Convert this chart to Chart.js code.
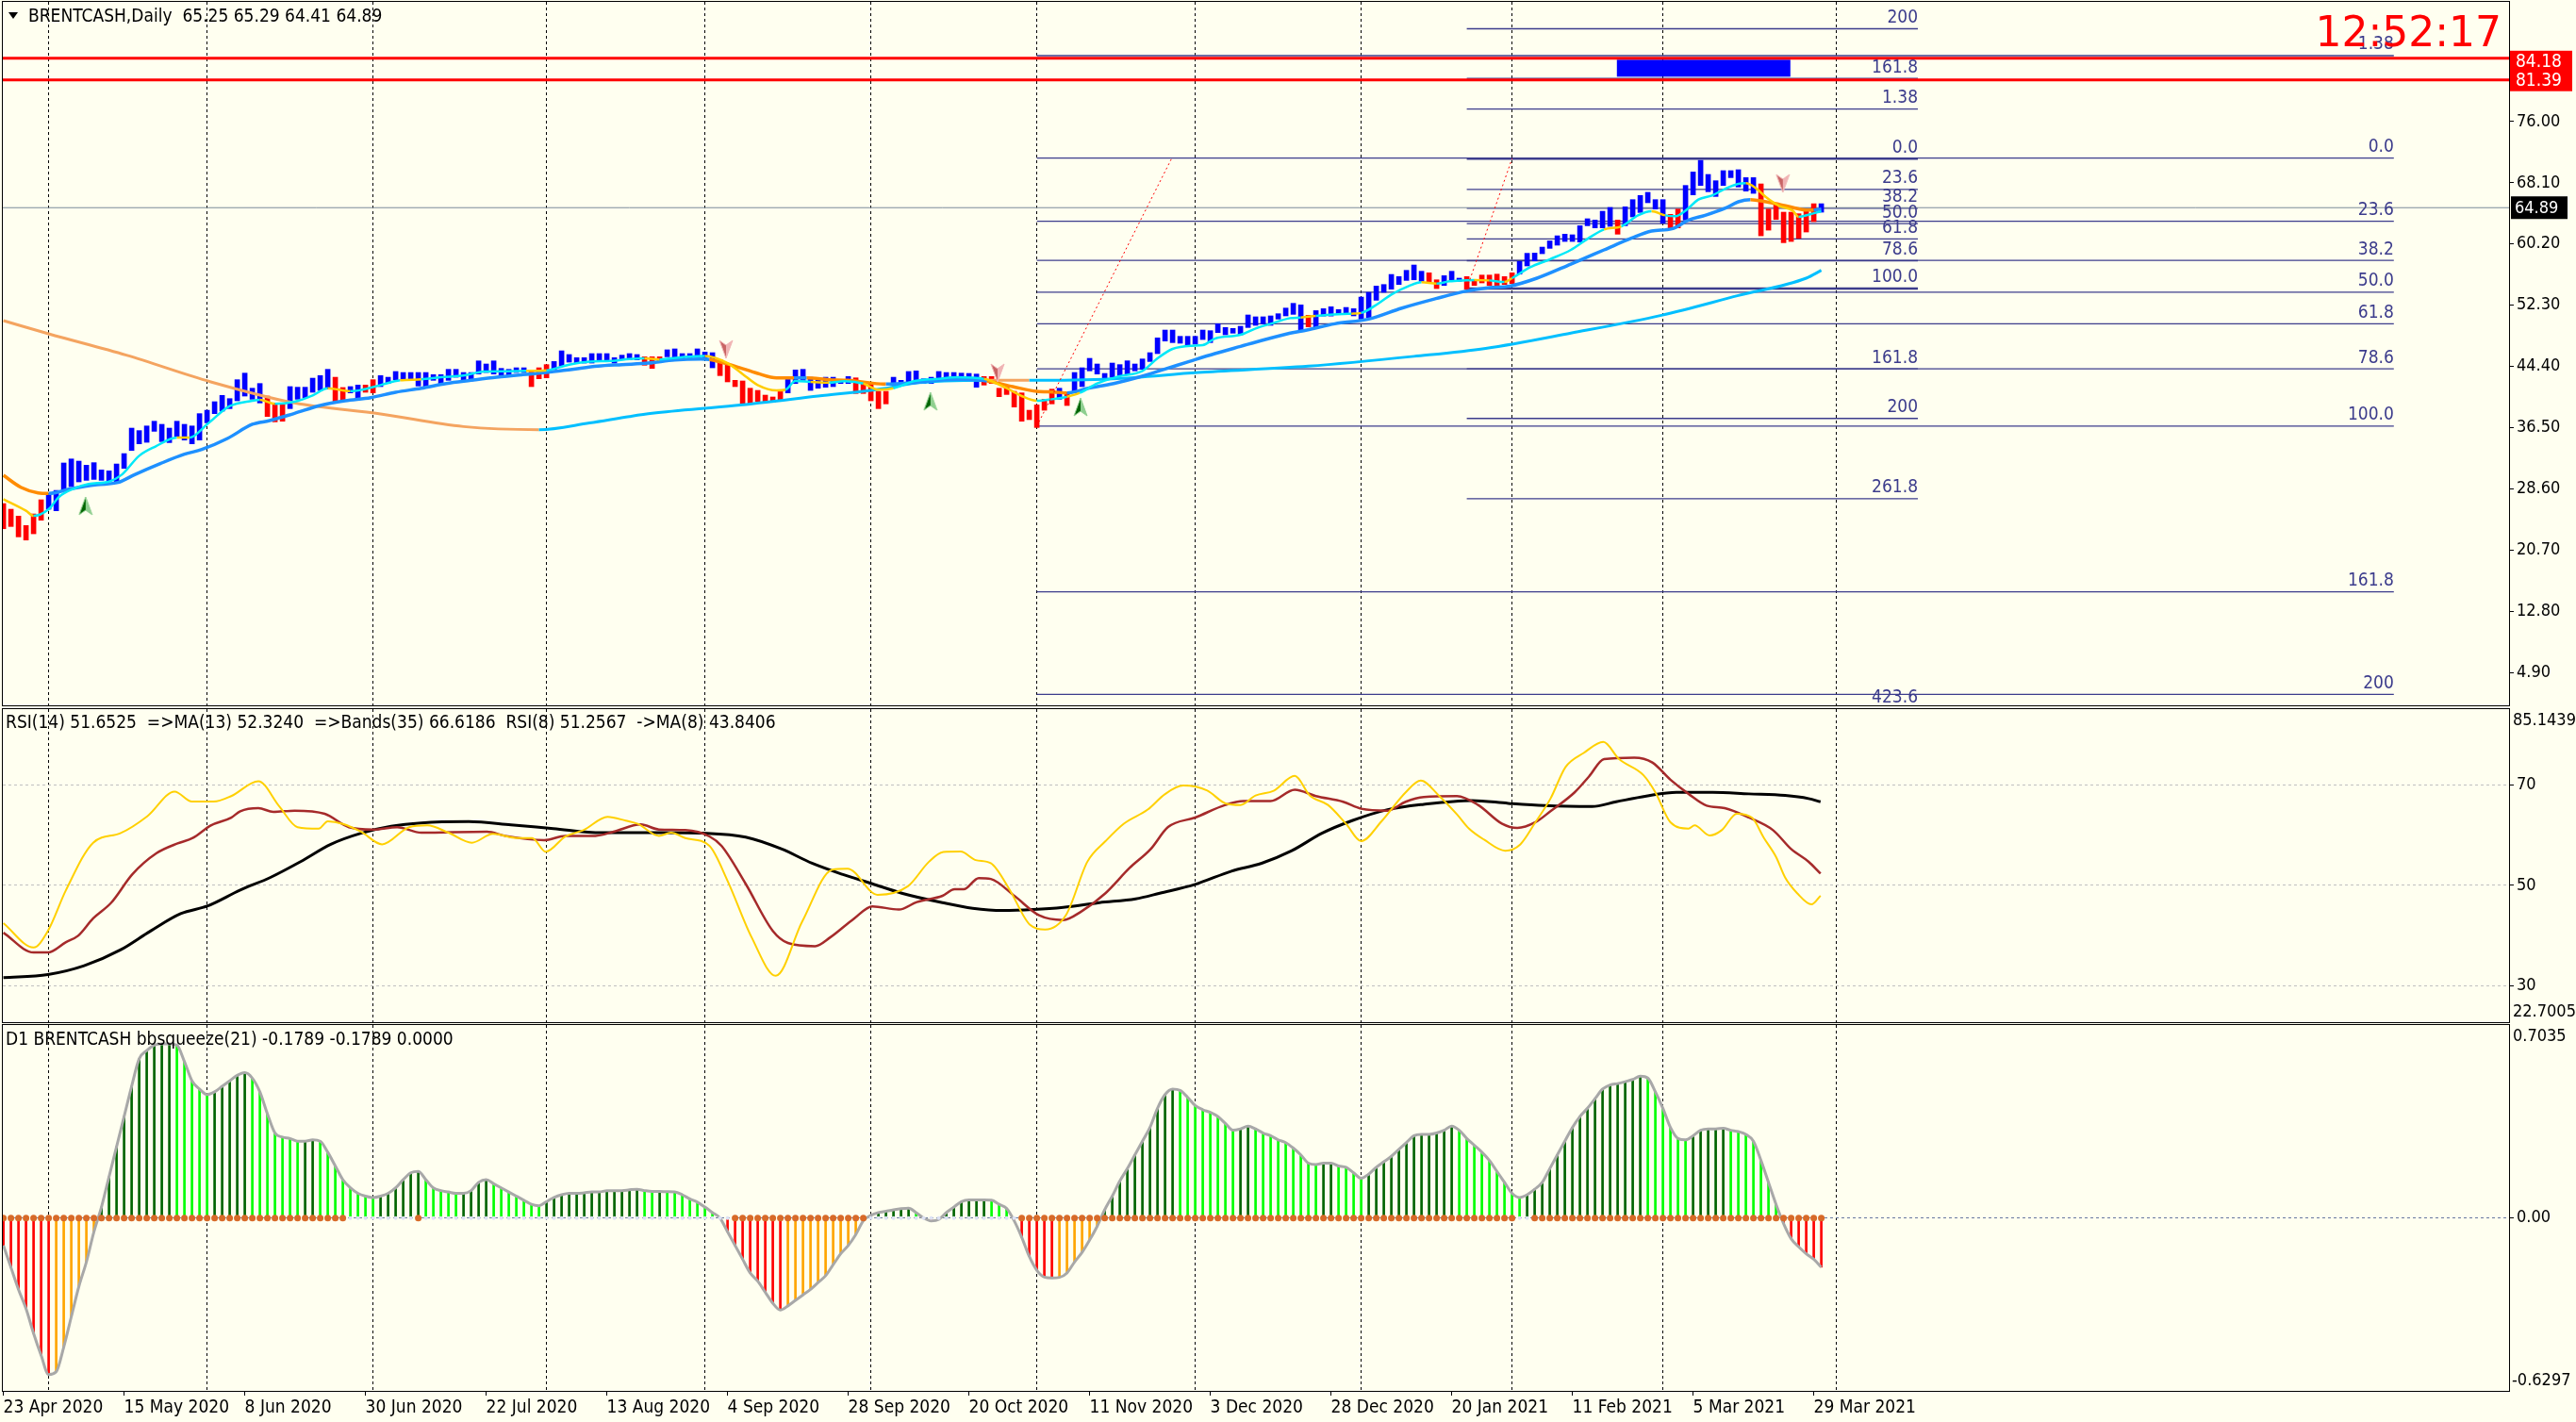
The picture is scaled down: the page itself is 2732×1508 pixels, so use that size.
<!DOCTYPE html>
<html>
<head>
<meta charset="utf-8">
<script src="https://cdn.jsdelivr.net/npm/chart.js@4.4.1/dist/chart.umd.min.js"></script>
<style>
  html, body { margin: 0; padding: 0; background: #fffff0; }
  body { width: 2732px; height: 1508px; position: relative; overflow: hidden; }
  canvas { position: absolute; left: 0; }
</style>
</head>
<body>
<canvas id="main" width="2732" height="749" style="top:0"></canvas>
<canvas id="rsi" width="2732" height="337" style="top:749px"></canvas>
<canvas id="squeeze" width="2732" height="422" style="top:1086px"></canvas>
<script>
// ---------- data (bar index 0 = 23 Apr 2020) ----------
const barHigh = [
  26.69, 25.96, 25.07, 23.85, 25.35, 27.18, 27.99, 28.39, 31.93, 32.45,
  32.17, 31.64, 31.97, 31.03, 30.91, 31.80, 33.14, 36.43, 36.11, 36.71,
  37.32, 36.92, 36.43, 37.32, 36.92, 36.71, 38.30, 38.74, 39.84, 40.65,
  40.24, 42.68, 43.53, 41.58, 42.19, 40.57, 39.68, 39.68, 41.79, 41.71,
  41.71, 42.88, 43.21, 44.02, 43.00, 41.67, 41.79, 41.99, 41.99, 42.68,
  43.21, 43.00, 43.74, 43.61, 43.61, 43.61, 43.61, 43.33, 43.33, 44.02,
  44.02, 43.61, 43.61, 45.11, 44.71, 45.11, 44.14, 44.02, 44.22, 44.22,
  43.74, 44.22, 44.63, 45.03, 46.41, 45.93, 45.52, 45.52, 46.05, 46.05,
  46.05, 45.52, 45.85, 46.05, 45.93, 45.64, 45.64, 45.64, 46.54, 46.66,
  46.05, 46.05, 46.66, 46.25, 46.17, 45.24, 44.63, 42.60, 42.52, 41.58,
  41.30, 40.69, 40.45, 41.18, 43.00, 43.94, 44.02, 43.00, 42.60, 43.00,
  43.00, 42.60, 43.09, 42.92, 42.19, 42.19, 41.18, 41.18, 43.00, 42.60,
  43.74, 43.82, 42.80, 43.00, 43.74, 43.61, 43.61, 43.53, 43.49, 43.41,
  43.09, 43.09, 41.58, 41.71, 41.18, 40.98, 38.74, 39.43, 40.16, 41.46,
  41.58, 41.05, 43.61, 44.22, 45.44, 44.71, 43.49, 44.83, 44.63, 45.12,
  44.71, 45.36, 46.17, 48.08, 49.09, 49.09, 48.28, 48.28, 48.28, 49.09,
  49.01, 49.90, 49.42, 49.30, 49.58, 51.04, 50.80, 50.80, 50.92, 51.20,
  51.93, 52.54, 52.34, 51.00, 51.60, 51.85, 52.10, 51.73, 52.01, 51.85,
  53.35, 53.96, 54.77, 54.97, 56.27, 55.99, 56.80, 57.49, 56.68, 56.48,
  55.58, 56.11, 56.68, 55.79, 55.99, 55.58, 56.19, 56.19, 56.31, 55.99,
  56.48, 57.94, 59.00, 59.03, 59.80, 60.60, 61.26, 61.47, 61.39, 62.56,
  63.46, 63.29, 64.43, 64.92, 63.29, 65.00, 65.93, 66.46, 66.87, 65.93,
  65.93, 64.03, 64.71, 67.76, 69.50, 71.00, 69.18, 68.37, 69.67, 69.67,
  69.79, 68.77, 68.77, 67.96, 64.71, 65.32, 64.31, 64.31, 64.11, 64.59,
  65.40, 65.40
];
const barLow = [
  23.44, 23.73, 22.39, 21.98, 22.79, 24.54, 25.96, 25.76, 28.48, 28.88,
  29.49, 29.69, 29.81, 29.69, 29.61, 29.41, 31.24, 33.55, 34.40, 34.60,
  36.02, 34.69, 34.56, 35.38, 34.89, 34.40, 34.89, 37.12, 38.30, 38.62,
  38.95, 39.96, 40.57, 40.16, 39.68, 37.93, 37.24, 37.32, 38.95, 40.16,
  40.37, 41.06, 41.30, 41.46, 39.84, 39.96, 40.98, 40.16, 41.06, 40.98,
  41.79, 42.19, 42.68, 42.60, 42.60, 41.87, 41.79, 42.60, 41.99, 42.60,
  43.00, 42.60, 42.52, 43.41, 43.61, 43.41, 43.09, 43.09, 43.61, 43.61,
  41.79, 42.80, 42.92, 44.02, 44.43, 44.95, 44.83, 44.83, 44.83, 45.03,
  45.24, 44.83, 45.24, 45.24, 45.24, 44.55, 44.14, 44.95, 45.64, 45.44,
  45.44, 45.52, 45.64, 45.52, 44.22, 43.21, 42.40, 41.79, 39.64, 39.64,
  39.88, 39.76, 39.76, 39.88, 40.98, 42.19, 42.60, 41.30, 41.58, 41.71,
  41.79, 42.19, 42.19, 40.90, 40.90, 39.96, 38.95, 39.56, 41.99, 41.99,
  42.40, 42.60, 42.19, 42.19, 42.60, 43.00, 42.60, 42.92, 42.80, 41.71,
  41.99, 42.19, 40.49, 40.77, 39.15, 37.32, 37.53, 36.51, 38.74, 39.56,
  40.16, 39.35, 40.98, 41.79, 43.82, 43.41, 42.60, 43.00, 43.21, 43.41,
  43.82, 44.02, 45.03, 46.05, 47.67, 47.47, 47.39, 47.06, 47.27, 47.87,
  47.47, 48.77, 48.48, 48.69, 48.48, 49.42, 49.70, 49.90, 49.70, 50.51,
  50.92, 51.12, 49.09, 49.50, 49.40, 50.90, 50.90, 51.12, 51.20, 50.92,
  50.50, 50.70, 52.94, 53.96, 54.37, 54.97, 55.50, 55.58, 55.38, 55.18,
  54.45, 54.85, 55.58, 55.38, 54.37, 54.85, 55.18, 54.85, 54.85, 54.97,
  55.10, 56.31, 57.37, 58.02, 58.95, 59.64, 60.05, 60.53, 60.53, 60.45,
  62.56, 62.28, 62.28, 62.48, 61.47, 62.56, 63.70, 64.27, 65.53, 64.71,
  62.89, 62.28, 62.28, 63.29, 66.54, 67.76, 66.95, 66.34, 67.76, 68.77,
  67.56, 67.03, 66.74, 61.26, 61.99, 63.37, 60.37, 60.53, 60.94, 61.75,
  63.09, 64.31
];
// runs of [direction, count]: 1 = up bar, -1 = down bar
const barDirRuns = [[-1,6],[1,29],[-1,3],[1,6],[-1,2],[1,2],[-1,2],[1,20],[-1,3],[1,12],[-1,3],[1,7],
  [-1,9],[1,9],[-1,5],[1,12],[-1,10],[1,1],[-1,1],[1,31],[-1,1],[1,15],[-1,2],[1,3],[-1,7],[1,13],
  [-1,1],[1,6],[-1,2],[1,10],[-1,8],[1,1]];

// moving averages: [bar, price]
const fastMa = [[0,27.26],[3,25.76],[4,25.1],[6,25.96],[7.4,27.58],[9.3,28.6],[11.3,29.21],[14,29.53],[15.7,30.42],
  [18,32.86],[20.2,34.08],[23,35.21],[24.7,35.21],[27,36.92],[30,39.27],[33,39.96],[34,40.08],[36,39.56],[38.6,39.84],
  [41,40.65],[43,41.58],[46,41.2],[47.5,41.38],[50,41.99],[52.6,42.6],[55.4,42.72],[58,43.0],[61,43.21],[63.7,43.74],
  [66.5,43.78],[69.3,43.82],[72,43.9],[75,44.63],[77.7,45.03],[80.5,45.11],[83,45.36],[85,45.44],[87,45.3],[90,45.6],
  [93,45.76],[96,44.83],[98,43.41],[100,41.99],[102.5,41.3],[103.7,41.4],[105,42.52],[107,42.4],[109.5,42.3],
  [111.5,42.5],[114,42.19],[116,41.38],[118,41.58],[120.8,42.52],[124,42.8],[126.4,43.0],[130,42.8],[133,41.58],
  [135,40.57],[137,39.96],[139,40.16],[141,40.49],[142.7,40.98],[145,42.19],[147.8,43.09],[151,43.82],[153,45.44],
  [155,46.66],[157.5,47.06],[159,47.14],[160.6,47.99],[164,48.48],[166,49.3],[168,49.9],[170.6,50.63],[172,50.71],
  [174,50.92],[178.7,51.2],[180,51.3],[182.3,52.54],[184,53.68],[186.3,54.77],[188,55.26],[190,55.1],[191.7,55.38],
  [193.5,55.5],[195,55.55],[197,55.5],[199,55.3],[200,55.79],[202.4,57.2],[205,58.22],[207.8,59.44],[210,60.86],
  [212.2,62.08],[214.5,62.48],[216.7,63.9],[218.5,64.43],[220.3,63.9],[221.6,63.78],[223,64.51],[224.7,65.93],
  [226.5,66.46],[228.3,67.35],[230,67.96],[231,68.04],[232.3,67.43],[233.7,66.22],[235.4,65.12],[237.2,64.51],
  [238,63.7],[239.5,64.03],[241,64.43]];
const fastDown = [[0,4],[23,24.7],[34,36],[43,46],[54,56],[63.7,64.5],[66.5,67.5],[69.3,71.5],[85,87],[93,103.7],
  [107,110],[114,117],[130,137],[141,142],[172,173],[178.7,180],[188,190.5],[193,194],[196,197],[198.5,200],
  [212,214],[218.5,220.3],[231,238]];

const midMa = [[0,30.34],[2.3,28.8],[4.6,28.07],[6,27.99],[9,28.6],[12.4,29.13],[15.2,29.41],[17.4,30.42],[20.8,31.85],
  [24,33.06],[26.3,33.67],[29.7,35.09],[33,36.92],[35.3,37.4],[38.6,38.34],[42,39.35],[45.3,39.96],[48.7,40.37],
  [52,41.06],[55.4,41.58],[58.7,42.19],[62,42.6],[65.4,43.0],[68.8,43.33],[72,43.61],[75.4,44.02],[78.8,44.43],
  [82,44.63],[85.5,44.83],[89,45.24],[92.5,45.36],[93.6,45.3],[97,44.43],[100,43.49],[102.5,42.92],[104.8,42.92],
  [106.5,42.92],[109.5,42.68],[112,42.6],[114.8,42.27],[117,42.11],[120.4,42.27],[123.7,42.6],[127,42.72],
  [130.4,42.52],[133.8,41.79],[137,41.18],[139.2,41.1],[141,40.98],[143.8,41.58],[147.2,42.19],[150.5,43.0],
  [153.9,44.02],[157.2,45.03],[160.6,46.05],[164,46.98],[167.3,47.87],[170.6,48.69],[172.8,49.09],[176.5,49.9],
  [181,50.51],[185.4,51.93],[189.9,53.15],[193.5,54.04],[197,54.57],[199.7,54.77],[203.3,55.79],[207.8,57.61],
  [212.2,59.44],[215.8,60.94],[218.5,61.87],[221.2,62.16],[223.4,63.29],[225.6,63.9],[228.3,64.84],[230,65.65],
  [231.6,65.93],[233.7,65.65],[235.4,65.32],[237.2,64.92],[239,64.59],[240,64.6],[241,64.71]];
const midDown = [[0,5.5],[93.6,104],[106,117],[130,141],[231.6,239.5]];

const longMa = [[0,50.31],[6,48.6],[16.3,45.85],[27.5,42.4],[38.6,39.68],[50,38.26],[61,36.63],[71,36.23],
  [77.7,37.1],[83,37.93],[86,38.34],[97,39.35],[108,40.57],[117,41.58],[120.4,42.19],[130.4,42.6],[136,42.6],
  [147,42.8],[158.4,43.61],[173,44.43],[187,45.7],[196.5,46.73],[207.8,48.7],[219.8,51.0],[230,53.55],
  [239,55.79],[241,56.8]];
const longAbove = [[0,71],[130.5,136]];

// signal arrows
const arrowUpBars = [10.9, 122.9, 142.8];
const arrowUpVals = [26.33, 39.84, 39.11];
const arrowDownBars = [95.8, 131.8, 235.9];
const arrowDownVals = [46.66, 43.62, 68.09];

// fibonacci objects
const fibALevels = [84.52, 71.3, 63.13, 58.08, 53.99, 49.9, 44.09, 36.68, 15.29, 2.06];
const fibALabels = ['1.38', '0.0', '23.6', '38.2', '50.0', '61.8', '78.6', '100.0', '161.8', '200'];
const fibARange = [137, 316.9];
const fibATrend = [[137, 36.68], [154.9, 71.3]];
const fibBLevels = [87.99, 81.58, 77.63, 71.22, 67.26, 64.81, 62.84, 60.86, 58.04, 54.45, 44.09, 37.68, 27.32, 0.19];
const fibBLabels = ['200', '161.8', '1.38', '0.0', '23.6', '38.2', '50.0', '61.8', '78.6', '100.0', '161.8', '200', '261.8', '423.6'];
const fibBRange = [194, 253.8];
const fibBTrend = [[194, 54.45], [200, 71.22]];

const redLevels = [84.18, 81.39];
const lastPrice = 64.89;
const boxBars = [213.9, 236.9];
const boxPrices = [81.8, 84.0];

const priceTicks = [4.9, 12.8, 20.7, 28.6, 36.5, 44.4, 52.3, 60.2, 68.1, 76.0];

// RSI window: [bar, value]
const rsiFast = [[0,42.45],[4,37.6],[5.9,40.9],[8.3,49.05],[11.9,58.5],[15.5,60.38],[19.1,63.8],[22.7,68.7],[25,66.7],
  [27.9,66.7],[30.2,67.8],[33.8,70.75],[36.6,65.7],[39,61.6],[41.8,61.3],[43,62.76],[45,62.26],[47.4,60.7],[50.2,58.17],
  [53.8,61.6],[56.2,61.95],[59,60.5],[62.1,58.5],[64.9,60.25],[68.1,59.43],[70.1,59.43],[71.9,56.7],[74.5,59.75],
  [76.9,61.0],[80.1,63.65],[82.5,62.9],[84.1,62.26],[86.9,59.87],[88.5,60.5],[90.4,59.43],[93.6,57.86],[96,50.9],
  [99.2,39.6],[102.4,31.95],[105.9,42.77],[109.9,53.14],[111.9,53.33],[115.9,48.1],[119.9,49.8],[122.7,54.7],
  [124.6,56.65],[126.9,56.73],[128.9,55.03],[130.9,54.4],[133.3,49.37],[136.1,42.1],[138.1,41.2],[140.9,44.15],
  [143.7,54.7],[146.1,58.8],[148.5,62.26],[151.7,65.1],[154,68.2],[156.4,69.9],[159.6,68.9],[162,66.35],[164,66.03],
  [166,67.9],[168.4,68.87],[171.2,71.82],[173.2,67.9],[175.6,66.03],[178,62.26],[180,58.8],[182.7,62.76],[185.9,68.55],
  [187.9,70.9],[190.3,67.9],[192.7,64.15],[194.3,61.3],[196.3,59.1],[199.1,56.9],[201.1,58.17],[203.1,62.58],
  [205.1,67.3],[207.1,73.6],[209.5,76.4],[212.1,78.6],[214.2,75.16],[217.4,72.0],[219,68.55],[221,62.58],
  [223.4,61.32],[224.2,61.95],[226.2,59.94],[227.8,61.0],[229.8,64.27],[231.8,63.5],[233.4,59.43],[235,55.66],
  [236.2,51.57],[237.8,48.43],[239.7,46.2],[240.9,47.93]];
const rsiSlow = [[0,40.56],[4,36.6],[5.9,36.6],[8.3,38.68],[9.9,39.93],[11.9,43.4],[14.3,46.54],[17.1,52.2],[20.3,56.4],
  [23.1,58.36],[25.1,59.43],[27.5,61.95],[30.2,63.5],[31.4,64.78],[33.8,65.4],[35.8,64.65],[38.6,64.9],[42.6,64.27],
  [45.8,61.6],[49,61.13],[52.2,61.6],[55.4,60.5],[64.1,60.7],[66.5,59.87],[71.7,59.0],[74.5,59.87],[78.5,59.87],
  [80.9,60.7],[84.5,62.14],[86.9,61.13],[90.4,61.0],[93.6,59.75],[95.2,57.86],[98.4,50.3],[102,40.9],[104,38.5],
  [107.6,37.86],[109.6,39.6],[112.8,43.4],[115.2,45.8],[118.7,45.16],[121.1,46.66],[124.5,47.9],[126.1,49.2],
  [127.3,49.2],[129.3,51.45],[130.9,51.26],[134.1,47.8],[137.3,44.02],[140.5,43.08],[142.9,44.78],[146.1,48.43],
  [149.3,53.46],[152.1,57.23],[154.4,61.63],[158,63.52],[162,66.03],[164.4,66.79],[168,66.79],[171.2,69.06],
  [174,67.8],[177.6,66.66],[180,65.28],[183.5,64.9],[185.9,66.66],[188.3,67.6],[192.7,67.8],[195.5,66.03],
  [198.7,62.26],[200.7,61.44],[203.1,62.58],[205.1,64.78],[208.3,68.55],[210.2,71.7],[212.2,75.16],[216.2,75.47],
  [218.6,74.5],[221,71.07],[223.4,68.24],[225.8,65.9],[228.2,65.4],[231.4,63.52],[234.6,61.0],[237,57.23],
  [239.3,54.72],[240.9,52.33]];
const rsiBand = [[0,31.57],[5.9,32.2],[10.7,33.96],[15.5,37.1],[19.5,40.88],[23.5,44.34],[27.1,45.9],[31.4,49.05],
  [35.4,51.57],[39.4,54.72],[43.4,58.17],[47.4,60.38],[51.4,61.76],[55.4,62.45],[61.7,62.7],[67.3,62.07],[72.9,61.32],
  [79.3,60.5],[87.2,60.5],[93.2,60.38],[98.4,59.62],[103.2,57.23],[107.2,54.4],[111.2,52.2],[115.2,50.3],[119.1,48.43],
  [124.5,46.54],[128.5,45.41],[132.5,44.97],[136.5,45.16],[140.5,45.6],[145.3,46.54],[150.1,47.3],[153.3,48.43],
  [158,50.19],[162.8,52.83],[166.8,54.4],[170.8,56.9],[174.8,60.38],[178.8,62.9],[183.5,65.09],[188.3,66.16],
  [194.7,66.92],[199.5,66.35],[204.3,65.9],[210.6,65.72],[213.8,66.66],[217.8,67.8],[221.8,68.55],[226.6,68.55],
  [231.4,68.24],[236.2,67.92],[239.3,67.3],[240.9,66.66]];
const rsiTicks = [30, 50, 70];

// bbsqueeze histogram, one value per bar
const squeezeVals = [
  -0.10, -0.18, -0.26, -0.33, -0.42, -0.50, -0.57, -0.56, -0.47, -0.36,
  -0.25, -0.16, -0.05, 0.04, 0.15, 0.26, 0.37, 0.48, 0.58, 0.61,
  0.63, 0.635, 0.635, 0.63, 0.57, 0.50, 0.47, 0.45, 0.46, 0.48,
  0.50, 0.52, 0.53, 0.51, 0.46, 0.38, 0.31, 0.295, 0.29, 0.28,
  0.28, 0.285, 0.28, 0.24, 0.19, 0.14, 0.11, 0.09, 0.08, 0.075,
  0.08, 0.09, 0.11, 0.14, 0.165, 0.17, 0.14, 0.11, 0.10, 0.095,
  0.09, 0.09, 0.10, 0.13, 0.14, 0.125, 0.11, 0.095, 0.08, 0.065,
  0.05, 0.045, 0.06, 0.075, 0.085, 0.09, 0.09, 0.092, 0.095, 0.095,
  0.10, 0.10, 0.10, 0.103, 0.105, 0.10, 0.097, 0.097, 0.096, 0.095,
  0.085, 0.07, 0.058, 0.04, 0.02, 0.0, -0.05, -0.10, -0.15, -0.20,
  -0.23, -0.27, -0.31, -0.335, -0.32, -0.30, -0.28, -0.26, -0.235, -0.21,
  -0.17, -0.13, -0.10, -0.06, -0.01, 0.01, 0.02, 0.025, 0.03, 0.034,
  0.036, 0.02, 0.0, -0.01, -0.005, 0.02, 0.04, 0.06, 0.066, 0.066,
  0.066, 0.065, 0.05, 0.035, -0.01, -0.07, -0.14, -0.19, -0.215, -0.218,
  -0.216, -0.20, -0.16, -0.125, -0.08, -0.03, 0.03, 0.08, 0.135, 0.18,
  0.23, 0.28, 0.33, 0.40, 0.45, 0.47, 0.465, 0.44, 0.41, 0.395,
  0.385, 0.37, 0.345, 0.32, 0.325, 0.335, 0.325, 0.31, 0.30, 0.285,
  0.275, 0.255, 0.23, 0.20, 0.195, 0.20, 0.20, 0.19, 0.185, 0.165,
  0.145, 0.16, 0.185, 0.205, 0.225, 0.25, 0.275, 0.30, 0.305, 0.305,
  0.31, 0.32, 0.335, 0.32, 0.29, 0.265, 0.24, 0.21, 0.17, 0.13,
  0.09, 0.075, 0.085, 0.105, 0.13, 0.18, 0.23, 0.28, 0.33, 0.37,
  0.40, 0.435, 0.47, 0.485, 0.49, 0.497, 0.505, 0.517, 0.51, 0.46,
  0.40, 0.33, 0.29, 0.285, 0.30, 0.32, 0.325, 0.325, 0.327, 0.32,
  0.315, 0.305, 0.28, 0.21, 0.13, 0.05, -0.02, -0.075, -0.105, -0.13,
  -0.15, -0.179
];
const squeezeOnRanges = [[0, 45], [55, 55], [97, 114], [135, 200], [203, 241]];

// time axis
const monthGridBars = [6, 27, 49, 72, 93, 115, 137, 158, 180, 200, 220, 243];
const dateBars = [0, 16, 32, 48, 64, 80, 96, 112, 128, 144, 160, 176, 192, 208, 224, 240];
const dateLabels = ['23 Apr 2020', '15 May 2020', '8 Jun 2020', '30 Jun 2020', '22 Jul 2020', '13 Aug 2020',
  '4 Sep 2020', '28 Sep 2020', '20 Oct 2020', '11 Nov 2020', '3 Dec 2020', '28 Dec 2020', '20 Jan 2021',
  '11 Feb 2021', '5 Mar 2021', '29 Mar 2021'];

// ---------- helpers ----------
const FONT = "'Liberation Sans Narrow', 'DejaVu Sans Condensed', 'Arial Narrow', sans-serif";
const X_MIN = -0.075, X_MAX = 332.175;
Chart.defaults.font.family = FONT;

const pts = arr => arr.map(([x, y]) => ({ x, y }));
const inRanges = (x, ranges) => ranges.some(([a, b]) => x >= a && x <= b);
const segColor = (ranges, on, off) => ctx =>
  inRanges((ctx.p0.parsed.x + ctx.p1.parsed.x) / 2, ranges) ? on : off;

const barDir = [];
barDirRuns.forEach(([d, n]) => { for (let k = 0; k < n; k++) barDir.push(d); });

// no extra room around the plot for labels: the frame is fixed
const noPad = s => { s.paddingTop = 0; s.paddingBottom = 0; s.paddingLeft = 0; s.paddingRight = 0; };

function arrowImage(up, dark, light) {
  const c = document.createElement('canvas');
  c.width = 16; c.height = 20;
  const g = c.getContext('2d');
  const tip = up ? [8, 0] : [8, 20], notch = up ? [8, 14] : [8, 6];
  const l = up ? [1, 19] : [1, 1], r = up ? [15, 19] : [15, 1];
  g.beginPath(); g.moveTo(...tip); g.lineTo(...l); g.lineTo(...notch); g.closePath();
  g.fillStyle = dark; g.fill();
  g.beginPath(); g.moveTo(...tip); g.lineTo(...r); g.lineTo(...notch); g.closePath();
  g.fillStyle = light; g.fill();
  g.beginPath(); g.moveTo(...tip); g.lineTo(...r); g.lineTo(...notch); g.lineTo(...l); g.closePath();
  g.strokeStyle = light; g.lineWidth = 1; g.stroke();
  return c;
}

function monthGrid() {
  return {
    type: 'linear', min: X_MIN, max: X_MAX, offset: false,
    afterBuildTicks: s => { s.ticks = monthGridBars.map(v => ({ value: v })); },
    ticks: { display: false },
    grid: { color: '#000', lineWidth: 1, drawTicks: false, offset: false },
    border: { display: false, dash: [3, 3] },
    afterFit: s => { s.height = 0; noPad(s); }
  };
}

function rightAxis(min, max, ticks, fmt, gridColor) {
  return {
    position: 'right', min, max,
    afterBuildTicks: s => { s.ticks = ticks.map(v => ({ value: v })); },
    ticks: { color: '#000', font: { family: FONT, size: 18 }, padding: 3, callback: fmt },
    grid: { drawOnChartArea: !!gridColor, color: gridColor || '#000', tickLength: 5, tickColor: '#000', tickWidth: 1, offset: false },
    border: { display: false, dash: [3, 3] },
    afterFit: s => { s.width = 71; noPad(s); }
  };
}

function baseOptions(padTop, padBottom) {
  return {
    responsive: false, animation: false, events: [],
    layout: { autoPadding: false, padding: { left: 3, right: 0, top: padTop, bottom: padBottom } },
    plugins: { legend: { display: false }, tooltip: { enabled: false } }
  };
}

const framePlugin = {
  id: 'frame',
  afterDraw(chart) {
    const { ctx, chartArea: a } = chart;
    ctx.save();
    ctx.strokeStyle = '#000';
    ctx.lineWidth = 1;
    ctx.strokeRect(a.left - 0.5, a.top - 0.5, a.right - a.left + 1, a.bottom - a.top + 1);
    ctx.restore();
  }
};

function text(ctx, str, x, y, opts) {
  ctx.save();
  ctx.font = opts.font || `18px ${FONT}`;
  ctx.fillStyle = opts.color || '#000';
  ctx.textAlign = opts.align || 'left';
  ctx.textBaseline = opts.baseline || 'middle';
  ctx.fillText(str, x, y);
  ctx.restore();
}

// ---------- main price window ----------
const fibColor = '#3c3c8c';
function fibDatasets(levels, labels, range, heavy) {
  return levels.map((v, i) => ({
    type: 'line', order: 30,
    data: [{ x: range[0], y: v }, { x: range[1], y: v }],
    borderColor: fibColor,
    borderWidth: (heavy && (labels[i] === '0.0' || labels[i] === '100.0')) ? 2.5 : 1.3,
    pointRadius: 0
  }));
}

const mainOverlay = {
  id: 'mainOverlay',
  beforeDatasetsDraw(chart) {
    const { ctx, scales: { x, y } } = chart;
    const x0 = x.getPixelForValue(boxBars[0]), x1 = x.getPixelForValue(boxBars[1]);
    const y0 = y.getPixelForValue(boxPrices[1]), y1 = y.getPixelForValue(boxPrices[0]);
    ctx.save();
    ctx.fillStyle = '#0000ff';
    ctx.fillRect(x0, y0, x1 - x0, y1 - y0);
    ctx.restore();
  },
  afterDraw(chart) {
    const { ctx, scales: { x, y } } = chart;
    // fibo labels
    [[fibALevels, fibALabels, fibARange], [fibBLevels, fibBLabels, fibBRange]].forEach(([lv, lb, rg]) => {
      const xr = x.getPixelForValue(rg[1]);
      lv.forEach((v, i) => text(ctx, lb[i], xr, y.getPixelForValue(v) - 2,
        { color: fibColor, align: 'right', baseline: 'bottom', font: `19px ${FONT}` }));
    });
    // header
    ctx.save();
    ctx.fillStyle = '#000';
    ctx.beginPath(); ctx.moveTo(9, 13); ctx.lineTo(19, 13); ctx.lineTo(14, 20); ctx.closePath(); ctx.fill();
    ctx.restore();
    text(ctx, 'BRENTCASH,Daily  65.25 65.29 64.41 64.89', 30, 18, { font: `19px ${FONT}` });
    // clock
    text(ctx, '12:52:17', 2653, 49, { color: '#ff0000', align: 'right', baseline: 'alphabetic', font: "44px 'DejaVu Sans'" });
    // price labels on the scale
    const yA = y.getPixelForValue(redLevels[0]), yB = y.getPixelForValue(redLevels[1]);
    ctx.save();
    ctx.fillStyle = '#ff0000';
    ctx.fillRect(2662, yA - 8, 66, 23);
    ctx.fillRect(2662, yB - 11, 66, 23);
    ctx.fillStyle = '#000';
    const yP = y.getPixelForValue(lastPrice);
    ctx.fillRect(2663, yP - 12, 60, 24);
    ctx.restore();
    text(ctx, '84.18', 2668, yA + 4, { color: '#fff', font: `19px ${FONT}` });
    text(ctx, '81.39', 2668, yB + 1, { color: '#fff', font: `19px ${FONT}` });
    text(ctx, '64.89', 2667, yP + 1, { color: '#fff' });
  }
};

new Chart(document.getElementById('main'), {
  type: 'bar',
  data: {
    datasets: [
      {
        type: 'bar', order: 20,
        data: barHigh.map((h, i) => ({ x: i, y: [barLow[i], h] })),
        backgroundColor: barDir.map(d => d > 0 ? '#0000ff' : '#ff0000'),
        barThickness: 5, borderWidth: 0
      },
      {
        type: 'line', order: 5, data: pts(longMa), borderWidth: 3, pointRadius: 0,
        cubicInterpolationMode: 'monotone',
        segment: { borderColor: segColor(longAbove, '#f4a460', '#00bfff') }
      },
      {
        type: 'line', order: 4, data: pts(midMa), borderWidth: 3.5, pointRadius: 0,
        cubicInterpolationMode: 'monotone',
        segment: { borderColor: segColor(midDown, '#ff8c00', '#1e90ff') }
      },
      {
        type: 'line', order: 3, data: pts(fastMa), borderWidth: 2.5, pointRadius: 0,
        cubicInterpolationMode: 'monotone',
        segment: { borderColor: segColor(fastDown, '#ffcc00', '#00e8f8') }
      },
      ...fibDatasets(fibALevels, fibALabels, fibARange, false),
      ...fibDatasets(fibBLevels, fibBLabels, fibBRange, true),
      ...[fibATrend, fibBTrend].map(t => ({
        type: 'line', order: 2, data: pts(t), borderColor: '#ff0000', borderWidth: 1,
        borderDash: [2, 3], pointRadius: 0
      })),
      ...redLevels.map(v => ({
        type: 'line', order: 2, data: [{ x: X_MIN, y: v }, { x: X_MAX, y: v }],
        borderColor: '#ff0000', borderWidth: 3, pointRadius: 0
      })),
      {
        type: 'line', order: 25, data: [{ x: X_MIN, y: lastPrice }, { x: X_MAX, y: lastPrice }],
        borderColor: '#7a8a9a', borderWidth: 1, pointRadius: 0
      },
      {
        type: 'line', order: 1, showLine: false,
        data: arrowUpBars.map((b, i) => ({ x: b, y: arrowUpVals[i] })),
        pointStyle: arrowImage(true, '#006400', '#8fcf8f'), pointRadius: 10
      },
      {
        type: 'line', order: 1, showLine: false,
        data: arrowDownBars.map((b, i) => ({ x: b, y: arrowDownVals[i] })),
        pointStyle: arrowImage(false, '#c86464', '#f0b4b4'), pointRadius: 10
      }
    ]
  },
  options: Object.assign(baseOptions(2, 1), {
    scales: {
      x: monthGrid(),
      y: rightAxis(0.64, 91.46, priceTicks, v => v.toFixed(2), null)
    }
  }),
  plugins: [framePlugin, mainOverlay]
});

// ---------- RSI window ----------
const rsiOverlay = {
  id: 'rsiOverlay',
  afterDraw(chart) {
    const { ctx, chartArea: a } = chart;
    text(ctx, 'RSI(14) 51.6525  =>MA(13) 52.3240  =>Bands(35) 66.6186  RSI(8) 51.2567  ->MA(8) 43.8406',
      6, a.top + 15, { font: `19px ${FONT}` });
    text(ctx, '85.1439', 2665, a.top + 3, { baseline: 'top' });
    text(ctx, '22.7005', 2665, a.bottom - 2, { baseline: 'bottom' });
  }
};

new Chart(document.getElementById('rsi'), {
  type: 'line',
  data: {
    datasets: [
      { data: pts(rsiBand), borderColor: '#000', borderWidth: 3, pointRadius: 0, cubicInterpolationMode: 'monotone', order: 3 },
      { data: pts(rsiSlow), borderColor: '#a52a2a', borderWidth: 2.5, pointRadius: 0, cubicInterpolationMode: 'monotone', order: 2 },
      { data: pts(rsiFast), borderColor: '#ffd000', borderWidth: 2, pointRadius: 0, cubicInterpolationMode: 'monotone', order: 1 }
    ]
  },
  options: Object.assign(baseOptions(3, 2), {
    scales: {
      x: monthGrid(),
      y: rightAxis(22.7005, 85.1439, rsiTicks, v => String(v), '#c0c0c0')
    }
  }),
  plugins: [framePlugin, rsiOverlay]
});

// ---------- bbsqueeze window ----------
const squeezeColors = squeezeVals.map((v, i) => {
  const prev = i > 0 ? squeezeVals[i - 1] : v;
  if (v >= 0) return v >= prev ? '#006400' : '#00ff00';
  return v <= prev ? '#ff0000' : '#ffa500';
});
const squeezeOn = squeezeVals.map((v, i) => inRanges(i, squeezeOnRanges));

const squeezeOverlay = {
  id: 'squeezeOverlay',
  afterDraw(chart) {
    const { ctx, chartArea: a } = chart;
    text(ctx, 'D1 BRENTCASH bbsqueeze(21) -0.1789 -0.1789 0.0000', 6, a.top + 16, { font: `19px ${FONT}` });
    text(ctx, '0.7035', 2665, a.top + 3, { baseline: 'top' });
    text(ctx, '-0.6297', 2664, a.bottom - 2, { baseline: 'bottom' });
  }
};

const dateAxis = {
  type: 'linear', position: 'bottom', min: X_MIN, max: X_MAX, offset: false,
  afterBuildTicks: s => { s.ticks = dateBars.map(v => ({ value: v })); },
  ticks: {
    color: '#000', font: { family: FONT, size: 19 }, align: 'start', autoSkip: false,
    maxRotation: 0, padding: 2, callback: (v, i) => dateLabels[i]
  },
  grid: { drawOnChartArea: false, tickLength: 5, tickColor: '#000', offset: false },
  border: { display: false },
  afterFit: s => { s.height = 33; noPad(s); }
};

new Chart(document.getElementById('squeeze'), {
  type: 'bar',
  data: {
    datasets: [
      {
        type: 'bar', order: 3, xAxisID: 'x',
        data: squeezeVals.map((v, i) => ({ x: i, y: v })),
        backgroundColor: squeezeColors, barThickness: 2, borderWidth: 0
      },
      {
        type: 'line', order: 2, xAxisID: 'x',
        data: squeezeVals.map((v, i) => ({ x: i, y: v })),
        borderColor: '#a8a8a8', borderWidth: 3, pointRadius: 0, cubicInterpolationMode: 'monotone'
      },
      {
        type: 'line', order: 1, xAxisID: 'x', showLine: false,
        data: squeezeVals.map((v, i) => ({ x: i, y: 0 })),
        pointBackgroundColor: squeezeOn.map(on => on ? '#d86a28' : '#dde2f4'),
        pointBorderWidth: 0,
        pointRadius: squeezeOn.map(on => on ? 3.5 : 2)
      }
    ]
  },
  options: Object.assign(baseOptions(1, 0), {
    scales: {
      x: monthGrid(),
      xd: dateAxis,
      y: rightAxis(-0.6297, 0.7035, [0], () => '0.00', '#6878a0')
    }
  }),
  plugins: [framePlugin, squeezeOverlay]
});
</script>
</body>
</html>
